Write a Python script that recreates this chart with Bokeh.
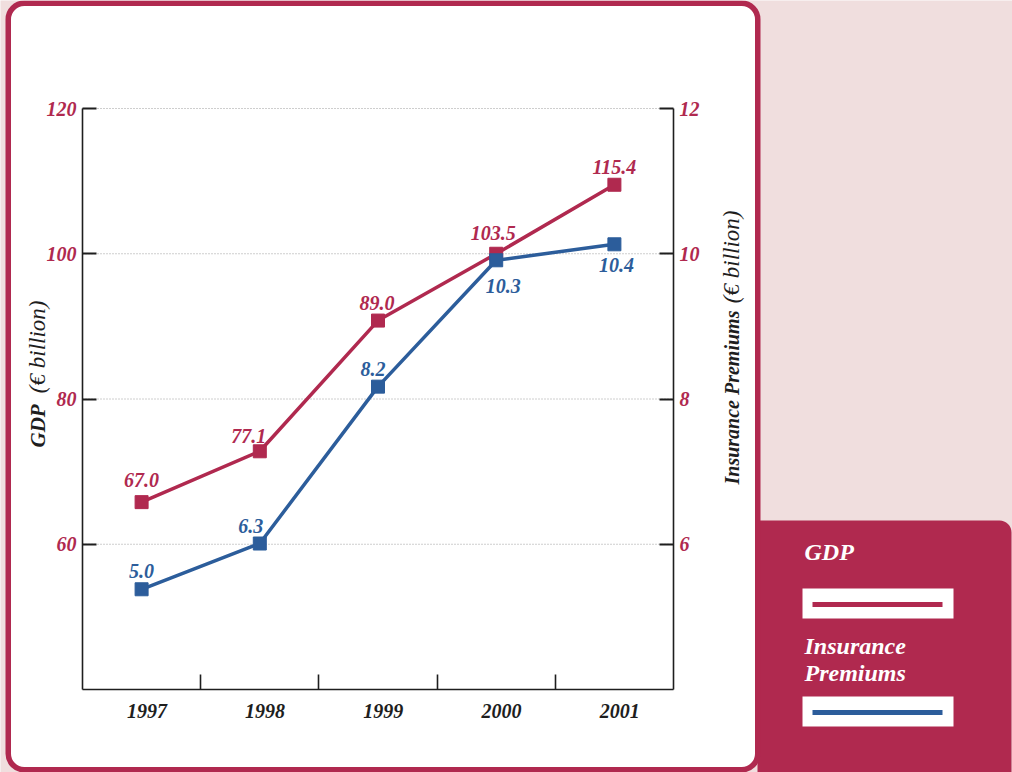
import math
from bokeh.plotting import figure
from bokeh.models import (Range1d, LinearAxis, FixedTicker, ColumnDataSource,
                          Label, BoxAnnotation)
from bokeh.core.properties import value
from bokeh.embed import file_html
from bokeh.resources import INLINE

# ---------------- data ----------------
years = [1997, 1998, 1999, 2000, 2001]
gdp = [65.8, 72.8, 90.8, 100.0, 109.5]               # plotted position (as drawn)
gdp_labels = ["67.0", "77.1", "89.0", "103.5", "115.4"]
premiums = [5.38, 6.01, 8.17, 9.91, 10.13]           # plotted position (as drawn)
premium_labels = ["5.0", "6.3", "8.2", "10.3", "10.4"]
gdp_ticks = [60, 80, 100, 120]
premium_ticks = [6, 8, 10, 12]
year_labels = ["1997", "1998", "1999", "2000", "2001"]
gdp_bounds = (40, 120)
premium_bounds = (4, 12)
year_bounds = (1996.5, 2001.5)

# ---------------- styles ----------------
CRIMSON = "#B0294F"
BLUE = "#2C5D9B"
PINK = "#F0DEDE"
INK = "#1E1E1E"
FONT = "Liberation Serif"
W, H = 1012, 772

# pixel placement of the chart box inside the page
FX0, FX1, FY0, FY1 = 82, 673, 108, 689

sx = (FX1 - FX0) / (year_bounds[1] - year_bounds[0])
sy = (FY1 - FY0) / (gdp_bounds[1] - gdp_bounds[0])
sy2 = (FY1 - FY0) / (premium_bounds[1] - premium_bounds[0])
x_start = year_bounds[0] - FX0 / sx
x_end = year_bounds[1] + (W - FX1) / sx
y_top = gdp_bounds[1] + FY0 / sy
y_bot = gdp_bounds[0] - (H - FY1) / sy
y2_top = premium_bounds[1] + FY0 / sy2
y2_bot = premium_bounds[0] - (H - FY1) / sy2


def px(v):
    return x_start + v / sx


def py(v):
    return y_top - v / sy


p = figure(width=W, height=H, output_backend="svg", toolbar_location=None,
           x_range=Range1d(x_start, x_end), y_range=Range1d(y_bot, y_top),
           x_axis_location=None, y_axis_location=None, min_border=0)
p.extra_y_ranges = {"ins": Range1d(y2_bot, y2_top)}
p.border_fill_color = PINK
p.background_fill_color = PINK
p.outline_line_color = None
p.xgrid.visible = False
p.ygrid.visible = False


def box(l, r, t, b, **kw):
    return BoxAnnotation(left=px(l), right=px(r), top=py(t), bottom=py(b), **kw)


# ---------------- decorative panels ----------------
p.add_layout(box(757, 1011, 520, 790, fill_color=CRIMSON, fill_alpha=1,
                 line_color=None, border_radius=(0, 12, 0, 0), level="image"))
p.add_layout(box(7.75, 757.25, 2.75, 769.25, fill_color="white", fill_alpha=1,
                 line_color=CRIMSON, line_width=5.5, line_alpha=1,
                 border_radius=16, level="image"))

# ---------------- grid (dotted) ----------------
p.segment(x0=year_bounds[0], x1=year_bounds[1], y0=gdp_ticks, y1=gdp_ticks,
          line_color="#9C9C9C", line_dash="1 2", line_width=1)

# ---------------- axes ----------------
yl = LinearAxis(fixed_location=year_bounds[0], bounds=gdp_bounds,
                ticker=FixedTicker(ticks=gdp_ticks))
yr = LinearAxis(fixed_location=year_bounds[1], bounds=premium_bounds,
                y_range_name="ins", ticker=FixedTicker(ticks=premium_ticks))
p.add_layout(yl, "left")
p.add_layout(yr, "right")
for ax in (yl, yr):
    ax.major_tick_in = 14
    ax.major_tick_out = 0
    ax.minor_tick_in = 0
    ax.minor_tick_out = 0
    ax.major_label_standoff = 6
    ax.major_label_text_color = CRIMSON
    ax.major_label_text_font = FONT
    ax.major_label_text_font_style = "bold italic"
    ax.major_label_text_font_size = "20px"
    ax.axis_line_color = INK
    ax.axis_line_width = 1.6
    ax.major_tick_line_color = INK
    ax.major_tick_line_width = 2

LABEL_SHIFT = 0.045  # italic labels sit slightly right of the category centre
label_pos = [y + LABEL_SHIFT for y in years]
xa = LinearAxis(fixed_location=gdp_bounds[0], bounds=year_bounds,
                ticker=FixedTicker(ticks=label_pos,
                                   minor_ticks=[y + 0.5 for y in years[:-1]]))
p.add_layout(xa, "below")
xa.major_label_overrides = {t: s for t, s in zip(label_pos, year_labels)}
xa.major_tick_in = 0
xa.major_tick_out = 0
xa.minor_tick_in = 15
xa.minor_tick_out = 0
xa.minor_tick_line_color = INK
xa.minor_tick_line_width = 1.6
xa.axis_line_color = INK
xa.axis_line_width = 1.6
xa.major_label_standoff = 14
xa.major_label_text_color = INK
xa.major_label_text_font = FONT
xa.major_label_text_font_style = "bold italic"
xa.major_label_text_font_size = "20px"


# axis titles (bold name + regular unit)
def vtitle(x, y, txt, align, style, size):
    p.add_layout(Label(x=px(x), y=py(y), text=txt, angle=math.pi / 2,
                       text_align=align, text_baseline="middle",
                       text_color=INK, text_font=FONT, text_font_style=style,
                       text_font_size=size))


vtitle(37, 447, "GDP", "left", "bold italic", "21px")
vtitle(37, 300, "(€ billion)", "right", "italic", "23px")
vtitle(731, 484, "Insurance Premiums", "left", "bold italic", "20px")
vtitle(731, 210, "(€ billion)", "right", "italic", "23px")

# ---------------- series ----------------
gdp_dx = [0, -11, -1, -3, 0]
gdp_dy = [-22, -15, -18, -21, -18]
ins_dx = [0, -9, -5, 7, 2]
ins_dy = [-18, -18, -18, 26, 21]

gsrc = ColumnDataSource(dict(x=years, y=gdp, t=gdp_labels, dx=gdp_dx, dy=gdp_dy))
isrc = ColumnDataSource(dict(x=years, y=premiums, t=premium_labels, dx=ins_dx, dy=ins_dy))

p.line("x", "y", source=gsrc, line_color=CRIMSON, line_width=3.5)
p.scatter("x", "y", source=gsrc, marker="square", size=13, fill_color=CRIMSON,
          line_color=CRIMSON)
p.line("x", "y", source=isrc, y_range_name="ins", line_color=BLUE, line_width=3.5)
p.scatter("x", "y", source=isrc, y_range_name="ins", marker="square", size=13,
          fill_color=BLUE, line_color=BLUE)

p.text("x", "y", text="t", source=gsrc, x_offset="dx", y_offset="dy",
       text_align="center", text_baseline="middle", text_color=CRIMSON,
       text_font=value(FONT), text_font_style="bold italic", text_font_size="20px")
p.text("x", "y", text="t", source=isrc, y_range_name="ins", x_offset="dx",
       y_offset="dy", text_align="center", text_baseline="middle",
       text_color=BLUE, text_font=value(FONT), text_font_style="bold italic",
       text_font_size="20px")


# ---------------- legend panel ----------------
def legend_box(top, color):
    p.add_layout(box(802, 953, top, top + 30, fill_color="white", fill_alpha=1,
                     line_color=None, level="overlay"))
    p.add_layout(box(812, 942, top + 13.5, top + 18.5, fill_color=color,
                     fill_alpha=1, line_color=None, level="overlay"))


def legend_text(txt, y):
    p.add_layout(Label(x=px(804), y=py(y), text=txt, text_align="left",
                       text_baseline="middle", text_color="white",
                       text_font=FONT, text_font_style="bold italic",
                       text_font_size="24px"))


legend_text("GDP", 551)
legend_box(588, CRIMSON)
legend_text("Insurance", 645)
legend_text("Premiums", 672)
legend_box(696, BLUE)

open("out.html", "w").write(file_html(p, INLINE))
